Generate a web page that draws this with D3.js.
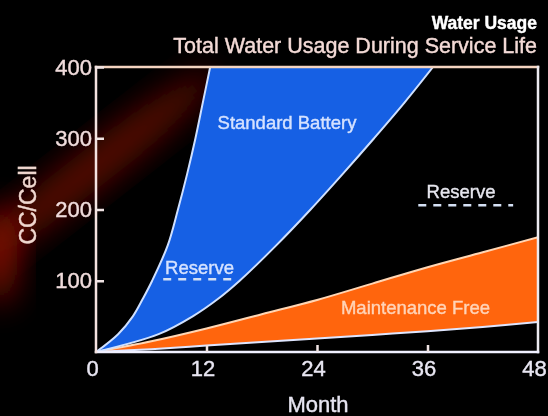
<!DOCTYPE html>
<html>
<head>
<meta charset="utf-8">
<script src="https://cdn.jsdelivr.net/npm/d3@7"></script>
<style>
  body { margin: 0; background: #000; }
  text { font-family: "Liberation Sans", Arial, sans-serif; }
</style>
</head>
<body>
<svg id="chart"></svg>
<script>
// standard battery band, read by water level (cc/cell)
let levels = [0, 25, 50, 75, 100, 150, 200, 250, 300, 350, 400];
let stdUpperMonth = [0, 2.4, 4.0, 5.1, 6.1, 7.8, 8.9, 9.9, 10.8, 11.6, 12.4];
let stdLowerMonth = [0, 6.8, 10.5, 13.3, 15.6, 19.6, 23.3, 26.8, 30.2, 33.5, 36.6];

// maintenance free band, read by month
let months = [0, 6, 12, 18, 24, 30, 36, 42, 48];
let mfUpper = [0, 15, 33, 53, 73, 96, 119, 140, 161];
let mfLower = [0, 4, 9, 14, 19, 24, 29, 35, 42];

let xTicks = [0, 12, 24, 36, 48];
let yTicks = [100, 200, 300, 400];

// reserve markers: [month start, month end, level]
let reserveStd = [7.3, 15.2, 102];
let reserveMf = [35, 45.3, 206];

let width = 548, height = 416;
let svg = d3.select("#chart").attr("width", width).attr("height", height);

let x = d3.scaleLinear().domain([0, 48]).range([96, 538]);
let y = d3.scaleLinear().domain([0, 400]).range([352, 67]);

let defs = svg.append("defs");
defs.append("filter").attr("id", "glow").attr("x", "-50%").attr("y", "-50%")
  .attr("width", "200%").attr("height", "200%")
  .append("feGaussianBlur").attr("stdDeviation", 16);
defs.append("filter").attr("id", "soft")
  .append("feGaussianBlur").attr("stdDeviation", 0.6);

// red glow behind the chart
svg.append("ellipse")
  .attr("cx", 90).attr("cy", 170).attr("rx", 160).attr("ry", 20)
  .attr("transform", "rotate(-38 90 170)")
  .attr("fill", "#700700").attr("opacity", 0.8)
  .attr("filter", "url(#glow)");
svg.append("ellipse")
  .attr("cx", 0).attr("cy", 255).attr("rx", 18).attr("ry", 50)
  .attr("fill", "#8c0c02").attr("opacity", 0.85)
  .attr("filter", "url(#glow)");

defs.append("clipPath").attr("id", "plot")
  .append("rect").attr("x", 96).attr("y", 67).attr("width", 442).attr("height", 285);

let main = svg.append("g").attr("filter", "url(#soft)");
let plot = main.append("g").attr("clip-path", "url(#plot)");

let stdData = levels.map((v, i) => ({ v: v, a: stdUpperMonth[i], b: stdLowerMonth[i] }));
let mfData = months.map((m, i) => ({ m: m, top: mfUpper[i], bot: mfLower[i] }));

plot.append("path")
  .datum(mfData)
  .attr("fill", "#ff6510")
  .attr("d", d3.area().x((d) => x(d.m)).y0((d) => y(d.bot)).y1((d) => y(d.top)).curve(d3.curveCatmullRom));

plot.append("path")
  .datum(stdData)
  .attr("fill", "#1460e4")
  .attr("d", d3.area().y((d) => y(d.v)).x0((d) => x(d.a)).x1((d) => x(d.b)).curve(d3.curveCatmullRom));

// curve edges
let edge = (data, fx, fy, color) => {
  plot.append("path")
    .datum(data)
    .attr("fill", "none")
    .attr("stroke", color)
    .attr("stroke-width", 2)
    .attr("d", d3.line().x(fx).y(fy).curve(d3.curveCatmullRom));
};
edge(mfData, (d) => x(d.m), (d) => y(d.top), "#ffd6b4");
edge(mfData, (d) => x(d.m), (d) => y(d.bot), "#dfe6ff");
edge(stdData, (d) => x(d.a), (d) => y(d.v), "#cfe0ff");
edge(stdData, (d) => x(d.b), (d) => y(d.v), "#cfe0ff");

// reserve dashes
[reserveStd, reserveMf].forEach((r) => {
  main.append("line")
    .attr("x1", x(r[0])).attr("x2", x(r[1]))
    .attr("y1", y(r[2])).attr("y2", y(r[2]))
    .attr("stroke", "#d4e0f4").attr("stroke-width", 2.5)
    .attr("stroke-dasharray", "8,7");
});

// frame
let frame = [
  [x(0), y(400), x(48), y(400), "#f4d4c0"],
  [x(48), y(400), x(48), y(0), "#eceaf0"],
  [x(0), y(0), x(48), y(0), "#f0f0ff"],
  [x(0), y(400), x(0), y(0), "#f4e2e0"]
];
frame.forEach((f) => {
  main.append("line")
    .attr("x1", f[0]).attr("y1", f[1]).attr("x2", f[2]).attr("y2", f[3])
    .attr("stroke", f[4]).attr("stroke-width", 2.5).attr("stroke-linecap", "square");
});

// axes
let yAxis = main.append("g")
  .attr("transform", "translate(" + x(0) + ",0)")
  .call(d3.axisLeft(y).tickValues(yTicks).tickSize(-8).tickPadding(4).tickFormat(d3.format("d")));
let xAxis = main.append("g")
  .attr("transform", "translate(0," + y(0) + ")")
  .call(d3.axisBottom(x).tickValues(xTicks).tickSize(-7).tickPadding(8).tickFormat(d3.format("d")));

[yAxis, xAxis].forEach((a) => {
  a.select(".domain").remove();
  a.selectAll(".tick line").attr("stroke", "#f0e4e4").attr("stroke-width", 2.5);
  a.selectAll(".tick text")
    .attr("fill", "#f0dcdc")
    .style("font-family", "'Liberation Sans', Arial, sans-serif")
    .style("font-size", "22px");
});
xAxis.selectAll(".tick text").attr("dx", -4).attr("fill", "#e8e6f2");
xAxis.selectAll(".tick line").filter((d) => d === 0 || d === 48).remove();

// titles
main.append("text")
  .attr("x", 537).attr("y", 29)
  .attr("text-anchor", "end")
  .attr("fill", "#ffffff")
  .style("font-size", "17.5px").style("font-weight", "bold")
  .text("Water Usage");
main.append("text")
  .attr("x", 537).attr("y", 53)
  .attr("text-anchor", "end")
  .attr("fill", "#f3dad6")
  .style("font-size", "21.5px")
  .text("Total Water Usage During Service Life");

main.append("text")
  .attr("transform", "translate(36,205) rotate(-90)")
  .attr("text-anchor", "middle")
  .attr("fill", "#f0d8d0")
  .style("font-size", "23px")
  .text("CC/Cell");
main.append("text")
  .attr("x", 318).attr("y", 412)
  .attr("text-anchor", "middle")
  .attr("fill", "#e6e4f0")
  .style("font-size", "22px")
  .text("Month");

// in-plot labels: [text, month, level, colour]
let labels = [
  ["Standard Battery", 13.2, 313, "#d6e2ff"],
  ["Reserve", 7.5, 110, "#d6e2ff"],
  ["Reserve", 35.9, 216, "#e6e6ee"],
  ["Maintenance Free", 26.6, 53, "#ffd4b8"]
];
labels.forEach((l) => {
  main.append("text")
    .attr("x", x(l[1])).attr("y", y(l[2]))
    .attr("fill", l[3])
    .style("font-size", "18.5px")
    .text(l[0]);
});

// slightly heavier strokes on all text, like the photographed slide
main.selectAll("text").each(function () {
  let t = d3.select(this);
  t.attr("stroke", t.attr("fill")).attr("stroke-width", 0.4);
});
</script>
</body>
</html>
